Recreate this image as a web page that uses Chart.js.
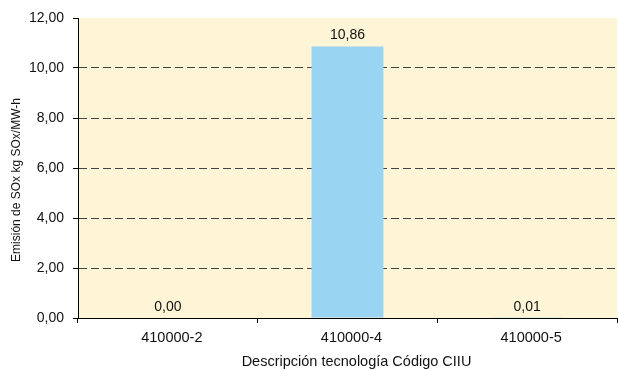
<!DOCTYPE html>
<html>
<head>
<meta charset="utf-8">
<script src="https://cdn.jsdelivr.net/npm/chart.js@4/dist/chart.umd.min.js"></script>
<style>
  html, body { margin: 0; padding: 0; background: #ffffff; }
  #wrap { width: 618px; height: 370px; position: relative; }
</style>
</head>
<body>
<div id="wrap"><canvas id="c" width="618" height="370"></canvas></div>
<script>
// Emisión de SOx por tecnología (código CIIU)
const categories = ['410000-2', '410000-4', '410000-5'];
const emissions = [0.00, 10.86, 0.01];
const yTicks = [0, 2, 4, 6, 8, 10, 12];
const xTitle = 'Descripción tecnología Código CIIU';
const yTitle = 'Emisión de SOx kg SOx/MW-h';

const fmt = v => v.toFixed(2).replace('.', ',');
const FONT = "'Liberation Sans', Arial, sans-serif";

// yellow plot background
const plotBg = {
  id: 'plotBg',
  beforeDraw(chart) {
    const { ctx, chartArea: a } = chart;
    ctx.save();
    ctx.fillStyle = '#FDF5D6';
    ctx.fillRect(a.left, a.top, a.right - a.left, a.bottom - a.top);
    ctx.restore();
  }
};

// value labels above each bar
const valueLabels = {
  id: 'valueLabels',
  afterDatasetsDraw(chart) {
    const { ctx } = chart;
    const meta = chart.getDatasetMeta(0);
    ctx.save();
    ctx.font = '14px ' + FONT;
    ctx.fillStyle = '#111';
    ctx.textAlign = 'center';
    ctx.textBaseline = 'bottom';
    meta.data.forEach((bar, i) => {
      ctx.fillText(fmt(emissions[i]), bar.x, bar.y - 4);
    });
    ctx.restore();
  }
};

// axis titles
const axisTitles = {
  id: 'axisTitles',
  afterDraw(chart) {
    const { ctx, chartArea: a } = chart;
    ctx.save();
    ctx.fillStyle = '#111';
    ctx.textAlign = 'center';
    ctx.textBaseline = 'middle';
    ctx.font = '14.5px ' + FONT;
    ctx.fillText(xTitle, (a.left + a.right) / 2 + 9, 362);
    ctx.translate(17, (a.top + a.bottom) / 2 + 12);
    ctx.rotate(-Math.PI / 2);
    ctx.font = '12px ' + FONT;
    ctx.fillText(yTitle, 0, 0);
    ctx.restore();
  }
};

new Chart(document.getElementById('c'), {
  type: 'bar',
  data: {
    labels: categories,
    datasets: [{
      data: emissions,
      backgroundColor: '#99D5F3',
      borderWidth: 0,
      barPercentage: 0.8,
      categoryPercentage: 0.5
    }]
  },
  options: {
    responsive: false,
    animation: false,
    devicePixelRatio: 1,
    layout: { padding: { top: 18, right: 1, left: 0, bottom: 0 } },
    plugins: { legend: { display: false }, tooltip: { enabled: false } },
    scales: {
      x: {
        offset: true,
        afterFit(s) { s.height = 52; },
        grid: {
          offset: true,
          drawOnChartArea: false,
          drawTicks: true,
          tickLength: 5,
          color: '#000'
        },
        border: { display: true, color: '#000', width: 1 },
        ticks: { color: '#111', font: { family: FONT, size: 14.5 }, padding: 6, labelOffset: 4 },
        title: { display: false }
      },
      y: {
        min: 0,
        max: 12,
        afterFit(s) { s.width = 78; },
        afterBuildTicks(s) { s.ticks = yTicks.map(v => ({ value: v })); },
        grid: {
          color: ctx => (ctx.tick && (ctx.tick.value === 0 || ctx.tick.value === 12)) ? 'rgba(0,0,0,0)' : '#444',
          tickColor: '#000',
          lineWidth: 1,
          tickLength: 5,
          tickBorderDash: [],
          drawTicks: true
        },
        border: { display: true, color: '#000', width: 1, dash: [8, 4] },
        ticks: {
          color: '#111',
          font: { family: FONT, size: 14 },
          padding: 9,
          callback: v => fmt(v)
        },
        title: { display: false }
      }
    }
  },
  plugins: [plotBg, valueLabels, axisTitles]
});
</script>
</body>
</html>
